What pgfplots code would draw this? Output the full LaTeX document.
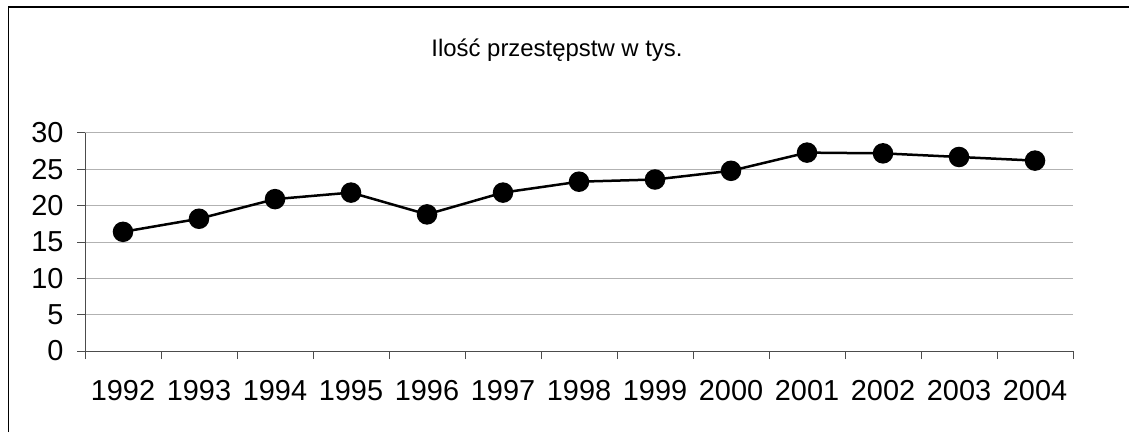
\documentclass[border=0pt]{standalone}
\usepackage{fontspec}
\setmainfont{Liberation Sans}
\usepackage{pgfplots}
\pgfplotsset{compat=1.18}
\begin{document}
\begin{tikzpicture}[x=1bp,y=1bp]
\path[use as bounding box] (0,0) rectangle (1129,432);
\draw[black, line width=1.5bp] (8.5,0) -- (8.5,425) -- (1129,425);
\node[font=\fontsize{24}{28}\selectfont, anchor=base, inner sep=0pt] at (557,375.5) {Ilość przestępstw w tys.};
\begin{axis}[at={(85bp,81bp)}, anchor=south west, scale only axis,
  width=988bp, height=218bp,
  xmin=-0.5, xmax=12.5, ymin=0, ymax=30, ytick={0,5,...,30},
  axis lines=left, axis line style={-, draw=gray!60!black, line width=1bp},
  ymajorgrids, grid style={gray!60, line width=1bp},
  xtick={-0.5,0.5,...,12.5}, xticklabels={},
  extra x ticks={0,1,...,12},
  extra x tick labels={1992,1993,1994,1995,1996,1997,1998,1999,2000,2001,2002,2003,2004},
  extra x tick style={major tick length=0pt, xticklabel style={yshift=-26bp}},
  tick align=outside, major tick length=8bp,
  tick style={gray!60!black, line width=1bp},
  tick label style={font=\fontsize{29}{34}\selectfont},
  yticklabel style={xshift=-10bp},
  /pgf/number format/assume math mode=true,
  clip=false,
]
\addplot[black, line width=2.5bp, mark=*, mark size=9bp, mark options={fill=black}]
coordinates {(0,16.4) (1,18.2) (2,20.9) (3,21.8) (4,18.8) (5,21.8) (6,23.3) (7,23.6) (8,24.8) (9,27.3) (10,27.2) (11,26.7) (12,26.2)};
\end{axis}
\end{tikzpicture}
\end{document}
